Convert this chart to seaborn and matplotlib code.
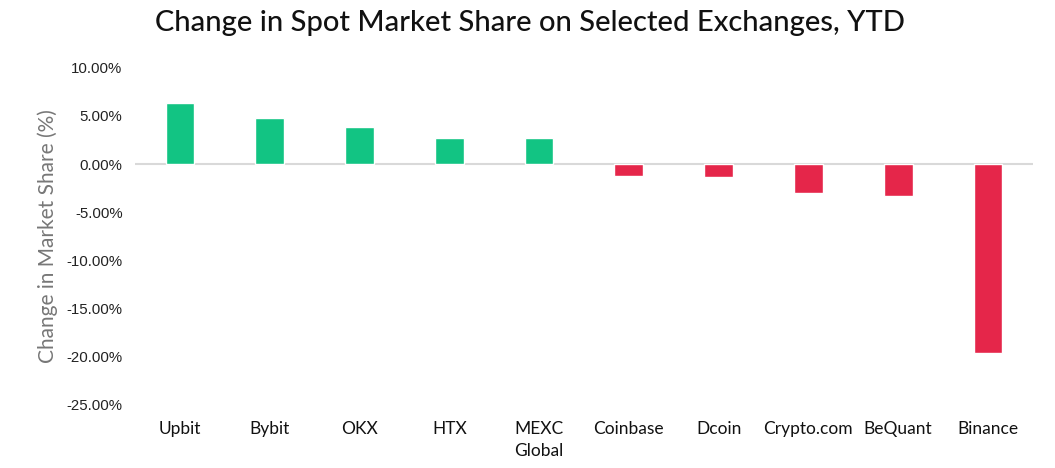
import matplotlib
matplotlib.use("Agg")
import matplotlib.pyplot as plt
import seaborn as sns
import pandas as pd
from matplotlib.ticker import FuncFormatter

exchanges = ["Upbit", "Bybit", "OKX", "HTX", "MEXC\nGlobal", "Coinbase",
             "Dcoin", "Crypto.com", "BeQuant", "Binance"]
change_pct = [6.38, 4.83, 3.83, 2.76, 2.76, -1.24, -1.35, -3.0, -3.31, -19.6]
yticks = [10, 5, 0, -5, -10, -15, -20, -25]

sns.set_theme(style="white")
plt.rcParams['font.family'] = ['Lato', 'DejaVu Sans']

df = pd.DataFrame({"exchange": exchanges, "change": change_pct})
df["sign"] = ["pos" if v >= 0 else "neg" for v in change_pct]

fig = plt.figure(figsize=(10.55, 4.68), dpi=100)
ax = fig.add_axes([0.128, 0.135, 0.851, 0.72])

sns.barplot(data=df, x="exchange", y="change", hue="sign",
            palette={"pos": "#12C483", "neg": "#E5264A"},
            dodge=False, width=0.32, legend=False, ax=ax, saturation=1)

ax.set_ylim(-25, 10)
ax.set_xlim(-0.5, len(exchanges) - 0.5)
ax.set_yticks(yticks)
ax.yaxis.set_major_formatter(FuncFormatter(lambda v, p: f"{v:.2f}%"))
ax.axhline(0, color="#D9D9D9", lw=1.5, zorder=0)
for s in ax.spines.values():
    s.set_visible(False)
ax.tick_params(axis="y", length=0, pad=9, labelsize=10.8, labelcolor="#222222")
ax.tick_params(axis="x", length=0, pad=12, labelsize=12.5, labelcolor="#111111")
for lab in ax.get_yticklabels():
    lab.set_family(['Liberation Sans', 'DejaVu Sans'])
for lab in ax.get_xticklabels():
    lab.set_linespacing(1.45)
ax.set_xlabel("")
ax.set_ylabel("Change in Market Share (%)", fontsize=15, color="#777777", labelpad=6)
ax.grid(False)

fig.suptitle("Change in Spot Market Share on Selected Exchanges, YTD",
             fontsize=21, x=0.502, y=0.978, color="#111111", weight="medium")

fig.savefig("out.png", dpi=100)
